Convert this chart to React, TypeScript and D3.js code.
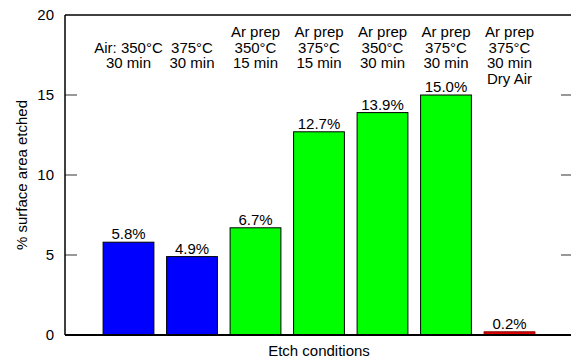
import React from "react";
import * as d3 from "d3";

// Etch conditions: each entry is a stack of header lines (first line may be blank)
const conditionLines: string[][] = [
  ["", "Air: 350°C", "30 min"],
  ["", "375°C", "30 min"],
  ["Ar prep", "350°C", "15 min"],
  ["Ar prep", "375°C", "15 min"],
  ["Ar prep", "350°C", "30 min"],
  ["Ar prep", "375°C", "30 min"],
  ["Ar prep", "375°C", "30 min", "Dry Air"],
];
const etchedPct: number[] = [5.8, 4.9, 6.7, 12.7, 13.9, 15.0, 0.2];
const barGroup: string[] = ["air", "air", "ar", "ar", "ar", "ar", "dry"];
const yTicks: number[] = [0, 5, 10, 15, 20];

const groupFill: Record<string, string> = {
  air: "#0000ff",
  ar: "#00ff00",
  dry: "#e00000",
};

const W = 571;
const H = 362;
const FONT = "'Liberation Sans', Arial, Helvetica, sans-serif";

export default function App() {
  const x = d3.scaleLinear().domain([0, conditionLines.length + 1]).range([65, 573]);
  const y = d3.scaleLinear().domain([0, 20]).range([335, 15]);
  const barW = (x(1) - x(0)) * 0.8;
  const lineBase = [37, 52.5, 68, 83.5];

  return (
    <div style={{ position: "absolute", left: 0, top: 0 }}>
      <svg width={W} height={H} style={{ display: "block", background: "#fff" }} fontFamily={FONT}>
        {/* bars */}
        {etchedPct.map((v, i) => {
          const cx = x(i + 1);
          return (
            <g key={i}>
              <rect
                x={cx - barW / 2}
                y={y(v)}
                width={barW}
                height={y(0) - y(v)}
                fill={groupFill[barGroup[i]]}
                stroke={barGroup[i] === "dry" ? "#8a0000" : "#000"}
                strokeWidth={1}
              />
              <text x={cx} y={y(v) - 3} textAnchor="middle" fontSize={15} fill="#000">
                {v.toFixed(1)}%
              </text>
              {conditionLines[i].map((ln, j) =>
                ln ? (
                  <text key={j} x={cx} y={lineBase[j]} textAnchor="middle" fontSize={15} fill="#000">
                    {ln}
                  </text>
                ) : null
              )}
            </g>
          );
        })}

        {/* ticks, left and right */}
        {yTicks.map((t) => (
          <g key={t}>
            {t > 0 && t < 20 && (
              <>
                <line x1={65} x2={77} y1={y(t)} y2={y(t)} stroke="#333" strokeWidth={1} />
                <line x1={561} x2={573} y1={y(t)} y2={y(t)} stroke="#333" strokeWidth={1} />
              </>
            )}
            <text x={54} y={y(t)} dy="0.35em" textAnchor="end" fontSize={15} fill="#000">
              {t}
            </text>
          </g>
        ))}

        {/* frame */}
        <line x1={65} x2={573} y1={y(20)} y2={y(20)} stroke="#000" strokeWidth={1.5} />
        <line x1={65} x2={573} y1={y(0)} y2={y(0)} stroke="#000" strokeWidth={1.8} />
        <line x1={65} x2={65} y1={y(20)} y2={y(0)} stroke="#000" strokeWidth={1.5} />

        {/* axis titles */}
        <text x={319} y={356} textAnchor="middle" fontSize={15} fill="#000">
          Etch conditions
        </text>
        <text
          transform={`translate(27,${(y(0) + y(20)) / 2}) rotate(-90)`}
          textAnchor="middle"
          fontSize={15}
          fill="#000"
        >
          % surface area etched
        </text>
      </svg>
    </div>
  );
}
